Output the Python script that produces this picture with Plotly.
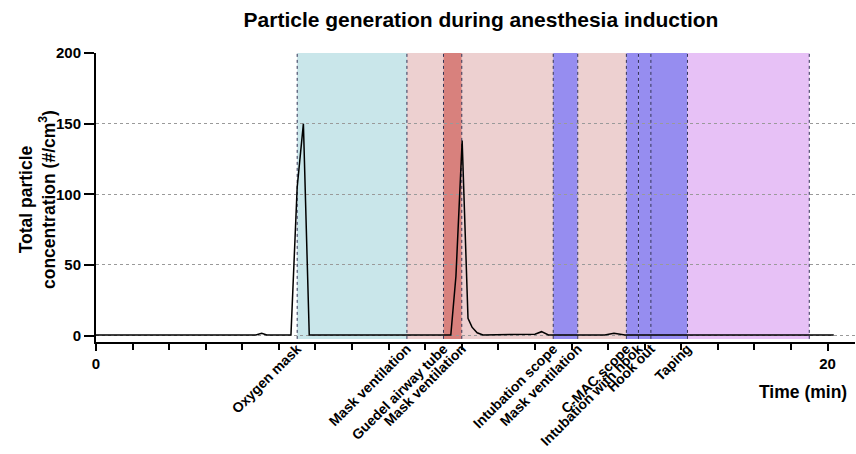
import plotly.graph_objects as go

# ---- data ----
time_min = [0.0, 4.37, 4.53, 4.67, 5.33, 5.50, 5.67, 5.83, 9.70, 9.84, 10.01,
            10.17, 10.28, 10.42, 10.58, 11.73, 12.00, 12.18, 12.37, 13.91,
            14.16, 14.46, 20.17]
concentration = [0.4, 0.4, 1.6, 0.4, 0.4, 105, 150, 0.4, 0.4, 42, 138,
                 12.3, 6, 2, 0.5, 0.6, 1.0, 2.8, 0.5, 0.5,
                 1.7, 0.4, 0.4]

event_names = ["Oxygen mask", "Mask ventilation", "Guedel airway tube",
               "Mask ventilation", "Intubation scope", "Mask ventilation",
               "C-MAC scope", "Intubation with hook", "Hook out", "Taping"]
event_start = [5.5, 8.5, 9.5, 10.0, 12.5, 13.17, 14.5, 14.83, 15.17, 16.17]
event_end = [8.5, 9.5, 10.0, 12.5, 13.17, 14.5, 14.83, 15.17, 16.17, 19.5]
event_colors = ["#c9e6ea", "#edd0d0", "#d8817d", "#edd0d0", "#968df0",
                "#edd0d0", "#968df0", "#968df0", "#968df0", "#e7c1f6"]

y_ticks = [0, 50, 100, 150, 200]
x_major = [0, 20]
x_major_text = ["0", "20"]
x_minor = list(range(0, 21))

XR = [0, 20.75]
YR = [-4.5, 200]
FONT = "Liberation Sans, Arial, sans-serif"

fig = go.Figure()

fig.add_trace(go.Scatter(x=time_min, y=concentration, mode="lines",
                         line=dict(color="black", width=1.5),
                         showlegend=False, hoverinfo="skip"))
# invisible trace to anchor the event-label axis
fig.add_trace(go.Scatter(x=event_start, y=[-100] * len(event_start),
                         xaxis="x2", mode="markers", marker=dict(opacity=0),
                         showlegend=False, hoverinfo="skip"))

shapes = []
for s, e, c in zip(event_start, event_end, event_colors):
    shapes.append(dict(type="rect", xref="x", yref="y", x0=s, x1=e,
                       y0=-2.3, y1=200, fillcolor=c, line=dict(width=0),
                       layer="below"))
for b in event_start + [event_end[-1]]:
    shapes.append(dict(type="line", xref="x", yref="y", x0=b, x1=b,
                       y0=-2.3, y1=200,
                       line=dict(color="#333355", width=1, dash="dot"),
                       layer="below"))

fig.update_layout(
    width=856, height=454,
    margin=dict(l=96, r=1, t=53, b=112, pad=0),
    paper_bgcolor="white", plot_bgcolor="white",
    shapes=shapes,
    title=dict(text="<b>Particle generation during anesthesia induction</b>",
               x=481 / 856, xanchor="center", xref="container",
               y=(454 - 20) / 454, yanchor="middle", yref="container",
               font=dict(family=FONT, size=21, color="black")),
    xaxis=dict(range=XR, showline=True, linecolor="black", linewidth=2,
               tickmode="array", tickvals=x_major, ticktext=x_major_text,
               ticks="outside", ticklen=7, tickwidth=2, tickcolor="black",
               minor=dict(tickmode="array", tickvals=x_minor, ticks="outside",
                          ticklen=6, tickwidth=2, tickcolor="black",
                          showgrid=False),
               showgrid=False, zeroline=False, automargin=False,
               tickfont=dict(family=FONT, size=15, color="black", weight="bold")),
    xaxis2=dict(range=XR, overlaying="x", anchor="y", side="bottom",
                showline=False, ticks="", showgrid=False, zeroline=False,
                tickmode="array", tickvals=event_start, ticktext=event_names,
                tickangle=-45, automargin=False, ticklabelstandoff=-5,
                tickfont=dict(family=FONT, size=14, color="black", weight="bold")),
    yaxis=dict(range=YR, showline=True, linecolor="black", linewidth=2,
               tickmode="array", tickvals=y_ticks, automargin=False,
               ticks="outside", ticklen=10, tickwidth=2, tickcolor="black",
               showgrid=True, gridcolor="#9a9a9a", griddash="dot", gridwidth=1,
               zeroline=False,
               tickfont=dict(family=FONT, size=15, color="black", weight="bold")),
    annotations=[
        dict(text="<b>Time (min)</b>", xref="paper", yref="paper",
             x=(849 - 96) / 759, xanchor="right", y=(342 - 392) / 289,
             yanchor="middle", showarrow=False,
             font=dict(family=FONT, size=17.5, color="black")),
        dict(text="<b>Total particle<br>concentration (#/cm<sup>3</sup>)</b>",
             xref="paper", yref="paper", textangle=-90,
             x=(37 - 96) / 759, xanchor="center", y=(342 - 200) / 289,
             yanchor="middle",
             showarrow=False, font=dict(family=FONT, size=17.5, color="black")),
    ],
)

fig.write_html("out.html",
               config={"displayModeBar": False, "staticPlot": True},
               post_script="document.body.style.margin='0';"
                           "document.body.style.padding='0';"
                           "document.body.style.overflow='hidden';")
